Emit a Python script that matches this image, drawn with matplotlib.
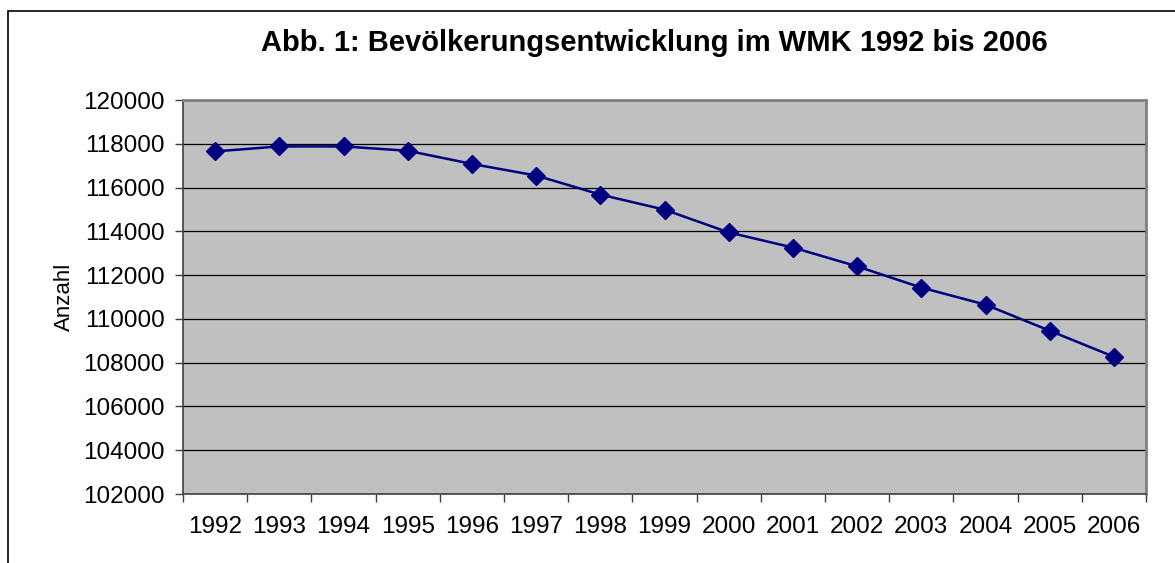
import matplotlib.pyplot as plt
from matplotlib.patches import Rectangle

# Daten
jahre = ['1992', '1993', '1994', '1995', '1996', '1997', '1998', '1999',
         '2000', '2001', '2002', '2003', '2004', '2005', '2006']
anzahl = [117650, 117880, 117880, 117680, 117080, 116550, 115680, 114990,
          113950, 113260, 112400, 111430, 110650, 109460, 108270]
y_ticks = list(range(102000, 120001, 2000))

plt.rcParams['font.family'] = ['Liberation Sans', 'DejaVu Sans']

fig = plt.figure(figsize=(11.75, 5.63), dpi=100)
ax = fig.add_axes([183/1175, 69/563, 963/1175, 394/563])

# Rahmen um das ganze Diagramm (rechts und unten abgeschnitten)
fig.patches.append(Rectangle((8/1175, -0.2), 1.2, 1.2 - 11/563,
                             transform=fig.transFigure, fill=False,
                             edgecolor='black', linewidth=1.2))

x = list(range(len(jahre)))
ax.plot(x, anzahl, color='#000080', linewidth=1.8, marker='D',
        markersize=9, zorder=3)

ax.set_facecolor('#C0C0C0')
ax.set_xlim(-0.5, len(jahre) - 0.5)
ax.set_ylim(102000, 120000)
ax.set_yticks(y_ticks)
ax.set_yticklabels([str(v) for v in y_ticks])
ax.grid(axis='y', color='black', linewidth=0.9)
ax.set_axisbelow(True)

# Kategorien mittig, Striche an den Grenzen
ax.set_xticks(x)
ax.set_xticklabels(jahre)
ax.set_xticks([i - 0.5 for i in range(len(jahre) + 1)], minor=True)
ax.tick_params(axis='x', which='major', length=0, pad=16, labelsize=17.5)
ax.tick_params(axis='x', which='minor', length=6, width=1, color='#404040')
ax.tick_params(axis='y', length=6, width=1, color='#404040', pad=7, labelsize=17.5)

for s in ['left', 'bottom']:
    ax.spines[s].set_color('#404040')
    ax.spines[s].set_linewidth(1.2)
for s in ['top', 'right']:
    ax.spines[s].set_color('#808080')
    ax.spines[s].set_linewidth(2)

ax.set_ylabel('Anzahl', fontsize=16, labelpad=6)
fig.text(654/1175, 1 - 43/563, 'Abb. 1: Bevölkerungsentwicklung im WMK 1992 bis 2006',
         ha='center', va='center', fontsize=21, fontweight='bold')

fig.savefig('out.png', dpi=100)
